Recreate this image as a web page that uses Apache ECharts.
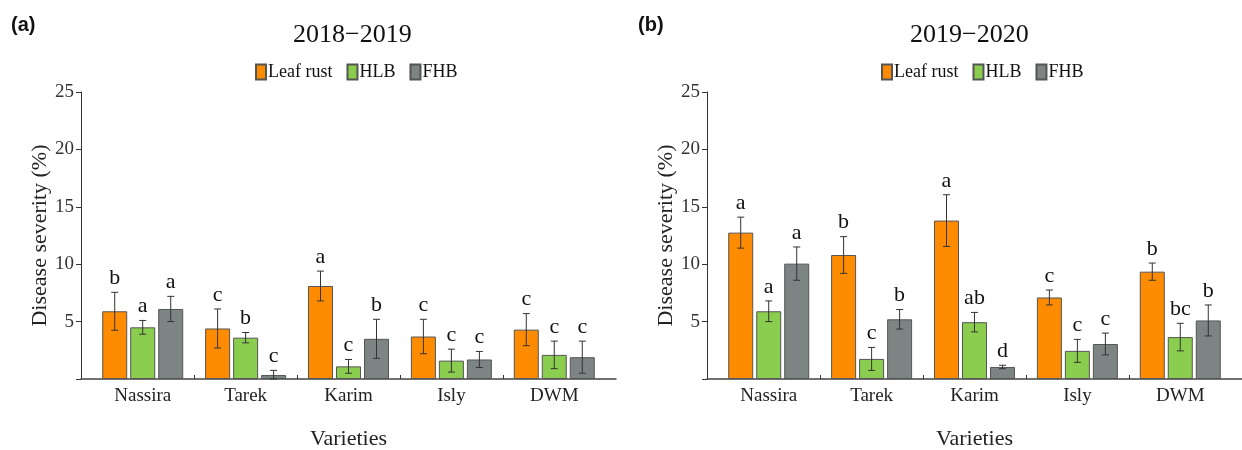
<!DOCTYPE html>
<html>
<head>
<meta charset="utf-8">
<script src="https://cdn.jsdelivr.net/npm/echarts@6/dist/echarts.min.js"></script>
<style>html,body{margin:0;padding:0;background:#fff}#c{width:1242px;height:450px}</style>
</head>
<body>
<div id="c"></div>
<script>
const varieties = ['Nassira', 'Tarek', 'Karim', 'Isly', 'DWM'];
const diseases = ['Leaf rust', 'HLB', 'FHB'];
const yTicks = [0, 5, 10, 15, 20, 25];

// 2018–2019
const lr1 = [5.9, 4.4, 8.1, 3.7, 4.3];
const lr1Err = [1.65, 1.7, 1.3, 1.5, 1.4];
const hlb1 = [4.5, 3.6, 1.1, 1.6, 2.1];
const hlb1Err = [0.6, 0.45, 0.6, 1.0, 1.2];
const fhb1 = [6.1, 0.35, 3.5, 1.7, 1.9];
const fhb1Err = [1.1, 0.4, 1.7, 0.7, 1.4];
const lr1Let = ['b', 'c', 'a', 'c', 'c'];
const hlb1Let = ['a', 'b', 'c', 'c', 'c'];
const fhb1Let = ['a', 'c', 'b', 'c', 'c'];

// 2019–2020
const lr2 = [12.75, 10.8, 13.8, 7.1, 9.35];
const lr2Err = [1.35, 1.6, 2.25, 0.65, 0.75];
const hlb2 = [5.9, 1.75, 4.95, 2.45, 3.65];
const hlb2Err = [0.9, 1.0, 0.85, 1.0, 1.2];
const fhb2 = [10.05, 5.2, 1.05, 3.05, 5.1];
const fhb2Err = [1.45, 0.85, 0.15, 0.95, 1.35];
const lr2Let = ['a', 'b', 'a', 'c', 'b'];
const hlb2Let = ['a', 'c', 'ab', 'c', 'bc'];
const fhb2Let = ['a', 'b', 'd', 'c', 'b'];

const colors = ['#FF8C00', '#8BCD4E', '#7D8584'];
const SERIF = '"Liberation Serif", "Times New Roman", serif';
const BAR_W = 25, BAR_GAP = 3;

const panels = [
  {title: '2018\u22122019', tag: '(a)', vals: [lr1, hlb1, fhb1], errs: [lr1Err, hlb1Err, fhb1Err], lets: [lr1Let, hlb1Let, fhb1Let]},
  {title: '2019\u22122020', tag: '(b)', vals: [lr2, hlb2, fhb2], errs: [lr2Err, hlb2Err, fhb2Err], lets: [lr2Let, hlb2Let, fhb2Let]}
];
const gridLeft = [81, 707];
const gridWidth = 535;
const titleLeft = [288, 905];
const legendLeft = [250, 876];
const tagLeft = [6, 633];

const chart = echarts.init(document.getElementById('c'), null, {renderer: 'canvas'});

const grids = [], xAxes = [], yAxes = [], series = [], titles = [], legends = [];
panels.forEach((p, pi) => {
  grids.push({left: gridLeft[pi], width: gridWidth, top: 92, height: 287, containLabel: false, outerBoundsMode: 'none'});
  xAxes.push({
    type: 'value', gridIndex: pi, min: 0.4, max: 5.6,
    name: 'Varieties', nameLocation: 'middle', nameGap: 49,
    nameTextStyle: {fontFamily: SERIF, fontSize: 22, color: '#222'},
    axisLine: {show: true, onZero: false, lineStyle: {color: '#444', width: 1.5}},
    axisTick: {show: true, inside: true, length: 4, customValues: [1.5, 2.5, 3.5, 4.5], lineStyle: {color: '#333'}},
    axisLabel: {show: true, customValues: [1, 2, 3, 4, 5], margin: 8, fontFamily: SERIF, fontSize: 19, color: '#222',
      formatter: v => varieties[Math.round(v) - 1] || ''},
    splitLine: {show: false}
  });
  yAxes.push({
    type: 'value', gridIndex: pi, min: yTicks[0], max: yTicks[yTicks.length - 1], interval: 5,
    name: 'Disease severity (%)', nameLocation: 'middle', nameGap: 30,
    nameTextStyle: {fontFamily: SERIF, fontSize: 22, color: '#222'},
    axisLine: {show: true, lineStyle: {color: '#333', width: 1}},
    axisTick: {show: true, length: 5, lineStyle: {color: '#333'}},
    axisLabel: {margin: 7, fontFamily: SERIF, fontSize: 19, color: '#333', formatter: v => v === 0 ? '' : String(v)},
    splitLine: {show: false}
  });
  titles.push({text: p.title, left: titleLeft[pi], top: 17,
    textStyle: {fontFamily: SERIF, fontSize: 26, fontWeight: 'normal', color: '#111'}});
  titles.push({text: p.tag, left: tagLeft[pi], top: 10,
    textStyle: {fontFamily: '"Liberation Sans", Arial, sans-serif', fontSize: 20, fontWeight: 'bold', color: '#111'}});
  legends.push({
    data: diseases, left: legendLeft[pi], top: 58, icon: 'rect', itemWidth: 10, itemHeight: 15, itemGap: 14,
    selectedMode: false,
    textStyle: {fontFamily: SERIF, fontSize: 18, color: '#111', padding: [0, 0, 0, -3]}
  });
  diseases.forEach((d, di) => {
    series.push({
      type: 'bar', name: d, xAxisIndex: pi, yAxisIndex: pi,
      barWidth: BAR_W, barGap: (BAR_GAP / BAR_W * 100) + '%',
      itemStyle: {color: colors[di], borderColor: '#555', borderWidth: 1},
      data: p.vals[di].map((v, i) => [i + 1, v]),
      animation: false
    });
  });
  diseases.forEach((d, di) => {
    const dx = (di - 1) * (BAR_W + BAR_GAP);
    const lets = p.lets[di];
    series.push({
      type: 'custom', name: 'err-' + pi + '-' + di, xAxisIndex: pi, yAxisIndex: pi, z: 5,
      data: p.vals[di].map((v, i) => [i + 1, v, p.errs[di][i]]),
      renderItem: (params, api) => {
        const x = api.value(0), m = api.value(1), e = api.value(2);
        const top = api.coord([x, m + e]);
        const bot = api.coord([x, Math.max(m - e, 0)]);
        const cx = top[0] + dx;
        const cap = 3.5;
        const ls = {stroke: '#333', lineWidth: 1};
        return {type: 'group', children: [
          {type: 'line', shape: {x1: cx, y1: top[1], x2: cx, y2: bot[1]}, style: ls},
          {type: 'line', shape: {x1: cx - cap, y1: top[1], x2: cx + cap, y2: top[1]}, style: ls},
          {type: 'line', shape: {x1: cx - cap, y1: bot[1], x2: cx + cap, y2: bot[1]}, style: ls},
          {type: 'text', style: {x: cx, y: top[1] - 3, text: lets[params.dataIndex], align: 'center', verticalAlign: 'bottom',
            fontFamily: SERIF, fontSize: 22, fill: '#111'}}
        ]};
      },
      animation: false
    });
  });
});

chart.setOption({
  backgroundColor: '#fff',
  animation: false,
  title: titles,
  legend: legends,
  grid: grids,
  xAxis: xAxes,
  yAxis: yAxes,
  series: series
});
</script>
</body>
</html>
